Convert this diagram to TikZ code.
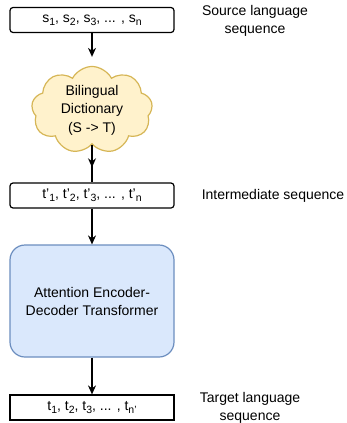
\documentclass[tikz,border=0pt]{standalone}
\usepackage{fontspec}
\setmainfont{Liberation Sans}
\usetikzlibrary{shapes.symbols,arrows.meta,decorations.markings}

\definecolor{dictfill}{HTML}{FFF2CC}
\definecolor{dictline}{HTML}{D6B656}
\definecolor{tfmfill}{HTML}{DAE8FC}
\definecolor{tfmline}{HTML}{6C8EBF}

\newcommand{\seqsub}[1]{\raisebox{-0.45ex}{\fontsize{10.5}{10.5}\selectfont #1}}

\tikzset{
  seqbox/.style={draw, line width=1.2pt, minimum width=164pt, minimum height=25pt, inner sep=0pt, font=\fontsize{14}{16}\selectfont},
  flow/.style={line width=1.2pt, -{Stealth[length=9pt,width=8pt]}},
  midflow/.style={line width=1.2pt, postaction={decorate},
    decoration={markings, mark=at position 0.6 with {\arrow{Stealth[length=9pt,width=8pt]}}}},
  sidetext/.style={align=center, font=\fontsize{14}{17.5}\selectfont},
}

\begin{document}
\begin{tikzpicture}[x=1pt, y=-1pt]
\useasboundingbox (0,0) rectangle (346,423);
%
% source sequence
\node[seqbox, rounded corners=3pt] (src) at (92,20) {s\seqsub{1}, s\seqsub{2}, s\seqsub{3}, ... , s\seqsub{n}};
\node[sidetext] (srclbl) at (255,21) {Source language\\sequence};

% dictionary
\node[cloud, cloud puffs=9, cloud puff arc=125, aspect=1.4, draw=dictline, fill=dictfill, line width=1.2pt,
      minimum width=121pt, minimum height=86pt, inner sep=0pt, align=center, font=\fontsize{14}{18.5}\selectfont] (dict) at (92,110)
      {Bilingual\\Dictionary\\(S -> T)};
\draw[flow, shorten >=9pt] (src) -- (dict);

% intermediate sequence
\node[seqbox, rounded corners=3pt] (inter) at (92,195.5) {t'\seqsub{1}, t'\seqsub{2}, t'\seqsub{3}, ... , t'\seqsub{n}};
\node[sidetext] (interlbl) at (273,196) {Intermediate sequence};
\draw[midflow] (dict.south) -- (inter.north);

% transformer
\node[draw=tfmline, fill=tfmfill, line width=1.2pt, rounded corners=15pt, minimum width=164pt, minimum height=112pt,
      align=center, font=\fontsize{14}{18}\selectfont] (tfm) at (92,301) {Attention Encoder-\\Decoder Transformer};
\draw[flow] (inter) -- (tfm);

% target sequence
\node[seqbox] (tgt) at (92,407.5) {t\seqsub{1}, t\seqsub{2}, t\seqsub{3}, ... , t\seqsub{n'}};
\node[sidetext] (tgtlbl) at (250,408) {Target language\\sequence};
\draw[flow] (tfm) -- (tgt);

\end{tikzpicture}
\end{document}
